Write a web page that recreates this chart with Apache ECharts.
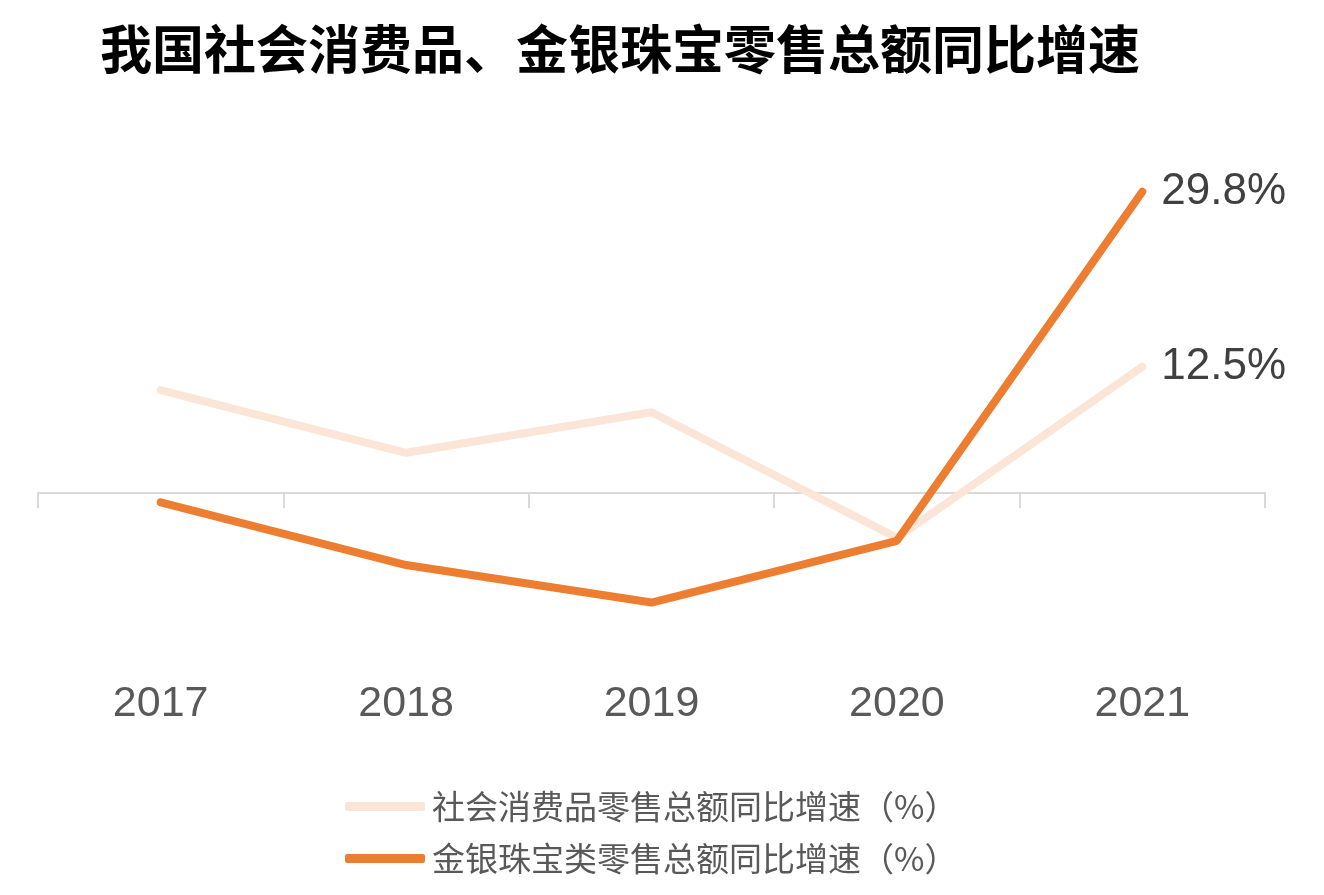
<!DOCTYPE html>
<html>
<head>
<meta charset="utf-8">
<script src="https://cdn.jsdelivr.net/npm/echarts@6/dist/echarts.min.js"></script>
<style>
  html, body { margin: 0; padding: 0; background: #fff; }
  #chart { width: 1324px; height: 895px; }
</style>
</head>
<body>
<div id="chart"></div>
<script>
    // Datos del gráfico
    const years = ['2017', '2018', '2019', '2020', '2021'];
    const consumoTotal = [10.2, 4.0, 8.0, -4.4, 12.5];
    const joyeria = [-0.9, -7.1, -10.8, -4.7, 29.8];
    const seriesNames = ['社会消费品零售总额同比增速（%）', '金银珠宝类零售总额同比增速（%）'];

    const latin = '"Liberation Sans", Arial, "Noto Sans CJK SC", sans-serif';
    const cjk = '"Noto Sans CJK SC", "Liberation Sans", sans-serif';

    const chart = echarts.init(document.getElementById('chart'));

    const endLabel = {
        show: true,
        formatter: p => p.value + '%',
        fontFamily: latin,
        fontSize: 44,
        color: '#404040',
        distance: 19
    };

    chart.setOption({
        animation: false,
        title: {
            text: '我国社会消费品、金银珠宝零售总额同比增速',
            left: 95,
            top: 18,
            textStyle: {
                fontFamily: cjk,
                fontSize: 52,
                fontWeight: 'bold',
                color: '#000'
            }
        },
        legend: {
            orient: 'vertical',
            left: 340,
            top: 785,
            icon: 'roundRect',
            itemWidth: 80,
            itemHeight: 9,
            itemGap: 19,
            textStyle: {
                fontFamily: cjk,
                fontSize: 33,
                color: '#595959',
                padding: [0, 0, 0, 2]
            },
            data: seriesNames
        },
        grid: {
            left: 38,
            right: 59,
            top: 189.7,
            bottom: 250
        },
        xAxis: {
            type: 'category',
            data: years,
            boundaryGap: true,
            axisLine: { onZero: true, lineStyle: { color: '#D9D9D9', width: 2 } },
            axisTick: { show: true, length: 15, lineStyle: { color: '#D9D9D9', width: 2 } },
            axisLabel: {
                margin: 38,
                fontFamily: latin,
                fontSize: 43,
                color: '#595959'
            }
        },
        yAxis: {
            type: 'value',
            min: -15,
            max: 30,
            show: false,
            splitLine: { show: false }
        },
        series: [
            {
                name: seriesNames[0],
                type: 'line',
                data: consumoTotal,
                symbol: 'none',
                color: '#FBE5D6',
                lineStyle: { width: 8, color: '#FBE5D6', cap: 'round' },
                endLabel: endLabel
            },
            {
                name: seriesNames[1],
                type: 'line',
                data: joyeria,
                symbol: 'none',
                color: '#ED7D31',
                lineStyle: { width: 8, color: '#ED7D31', cap: 'round' },
                endLabel: endLabel
            }
        ]
    });
</script>
</body>
</html>
